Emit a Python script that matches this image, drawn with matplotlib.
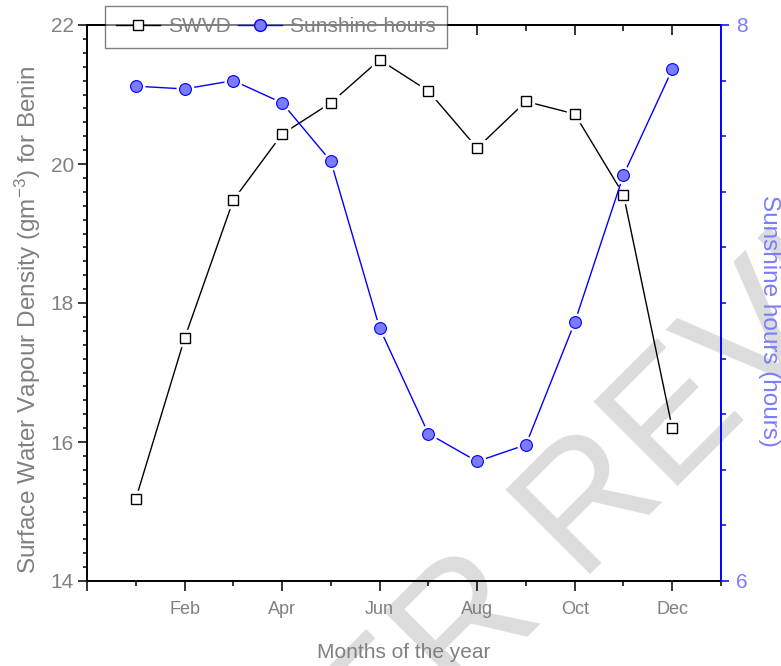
import matplotlib
matplotlib.use("Agg")
import matplotlib.pyplot as plt
from matplotlib.lines import Line2D
from matplotlib.ticker import MultipleLocator

plt.rcParams['font.family'] = ['Liberation Sans', 'DejaVu Sans']
plt.rcParams['mathtext.fontset'] = 'custom'
plt.rcParams['mathtext.rm'] = 'Liberation Sans'
plt.rcParams['mathtext.it'] = 'Liberation Sans:italic'

# data (month 1 = Jan)
months = [1, 2, 3, 4, 5, 6, 7, 8, 9, 10, 11, 12]
swvd = [15.18, 17.49, 19.48, 20.43, 20.88, 21.50, 21.05, 20.23, 20.90, 20.72, 19.56, 16.20]
sunshine = [7.78, 7.77, 7.80, 7.72, 7.51, 6.91, 6.53, 6.43, 6.49, 6.93, 7.46, 7.84]
month_ticks = [0, 2, 4, 6, 8, 10, 12]
month_labels = ['', 'Feb', 'Apr', 'Jun', 'Aug', 'Oct', 'Dec']

grey = '#808080'
blue = '#0000ff'
light_blue = '#7b7bff'

fig = plt.figure(figsize=(7.81, 6.66), dpi=100)
ax = fig.add_axes([87/781, 1-581/666, 634/781, 556/666])
ax.patch.set_visible(False)

# watermark behind everything
fig.text(0.816, 0.211, 'PEER REVIEW', fontsize=124, color='#dcdcdc',
         rotation=45, rotation_mode='anchor', ha='center', va='baseline', zorder=-5)

# SWVD (left axis)
ax.plot(months, swvd, color='k', lw=1.0, zorder=2)
ax.plot(months, swvd, ls='none', marker='s', ms=11.5, mfc='white', mec='white', zorder=3)
ax.plot(months, swvd, ls='none', marker='s', ms=7.5, mfc='white', mec='k', mew=1.0, zorder=4)

ax.set_xlim(0, 13)
ax.set_ylim(14, 22)
ax.set_xticks(month_ticks)
ax.set_xticklabels(month_labels)
ax.xaxis.set_minor_locator(MultipleLocator(1))
ax.set_yticks([14, 16, 18, 20, 22])
ax.yaxis.set_minor_locator(MultipleLocator(0.2))

ax.tick_params(axis='x', which='major', direction='out', length=7.2, width=1.1,
               labelsize=13, labelcolor=grey, pad=7)
ax.tick_params(axis='x', which='minor', direction='out', length=3.6, width=1.1)
ax.tick_params(axis='y', which='major', direction='out', length=6.5, width=1.1,
               labelsize=15, labelcolor=grey, pad=3)
ax.tick_params(axis='y', which='minor', direction='out', length=3.2, width=1.1)

for s in ['left', 'bottom', 'top']:
    ax.spines[s].set_linewidth(1.4)
    ax.spines[s].set_color('k')
ax.spines['right'].set_visible(False)

# top ticks pointing inward, no labels (the ones under the legend are hidden)
top = ax.secondary_xaxis('top')
top.set_xticks([8, 10, 12])
top.set_xticklabels([])
top.set_xticks([9, 11], minor=True)
top.tick_params(which='major', direction='in', length=7.5, width=1.1)
top.tick_params(which='minor', direction='in', length=4, width=1.1)
top.spines['top'].set_linewidth(1.4)

ax.set_xlabel('Months of the year', fontsize=15, color=grey, va='center')
ax.xaxis.set_label_coords(0.5, -0.128)
ax.set_ylabel('Surface Water Vapour Density (gm$^{\\mathregular{-3}}$) for Benin',
              fontsize=17.5, color=grey, va='center')
ax.yaxis.set_label_coords(-0.093, 0.469)

# Sunshine hours (right axis)
ax2 = ax.twinx()
ax2.plot(months, sunshine, color=blue, lw=1.0, zorder=2)
ax2.plot(months, sunshine, ls='none', marker='o', ms=12, mfc='white', mec='white', zorder=3)
ax2.plot(months, sunshine, ls='none', marker='o', ms=8.5, mfc=light_blue, mec=blue,
         mew=0.8, zorder=4)
ax2.set_ylim(6, 8)
ax2.set_yticks([6, 8])
ax2.yaxis.set_minor_locator(MultipleLocator(0.2))
ax2.tick_params(axis='y', which='major', direction='out', length=5.8, width=1.1,
                color=blue, labelsize=15, labelcolor=light_blue, pad=5)
ax2.tick_params(axis='y', which='minor', direction='out', length=3.6, width=1.1, color=blue)
for s in ['left', 'bottom', 'top']:
    ax2.spines[s].set_visible(False)
ax2.spines['right'].set_color(blue)
ax2.spines['right'].set_linewidth(1.4)
ax2.set_ylabel('Sunshine hours (hours)', fontsize=17.5, color=light_blue,
               rotation=270, va='center')
ax2.yaxis.set_label_coords(1.0757, 0.468)

handles = [
    Line2D([], [], color='k', lw=1.0, marker='s', ms=7.5, mfc='white', mec='k'),
    Line2D([], [], color=blue, lw=1.0, marker='o', ms=8.5, mfc=light_blue, mec=blue),
]
leg = ax2.legend(handles, ['SWVD', 'Sunshine hours'], ncol=2, fontsize=15,
                 loc='upper center', bbox_to_anchor=(276/781, 1-6/666),
                 bbox_transform=fig.transFigure, borderaxespad=0,
                 handlelength=2.1, handletextpad=0.4, columnspacing=0.35,
                 borderpad=0.55, fancybox=False, edgecolor='k', framealpha=0.5)
leg.get_frame().set_linewidth(1.0)
for t in leg.get_texts():
    t.set_color(grey)

fig.savefig('out.png', dpi=100)
